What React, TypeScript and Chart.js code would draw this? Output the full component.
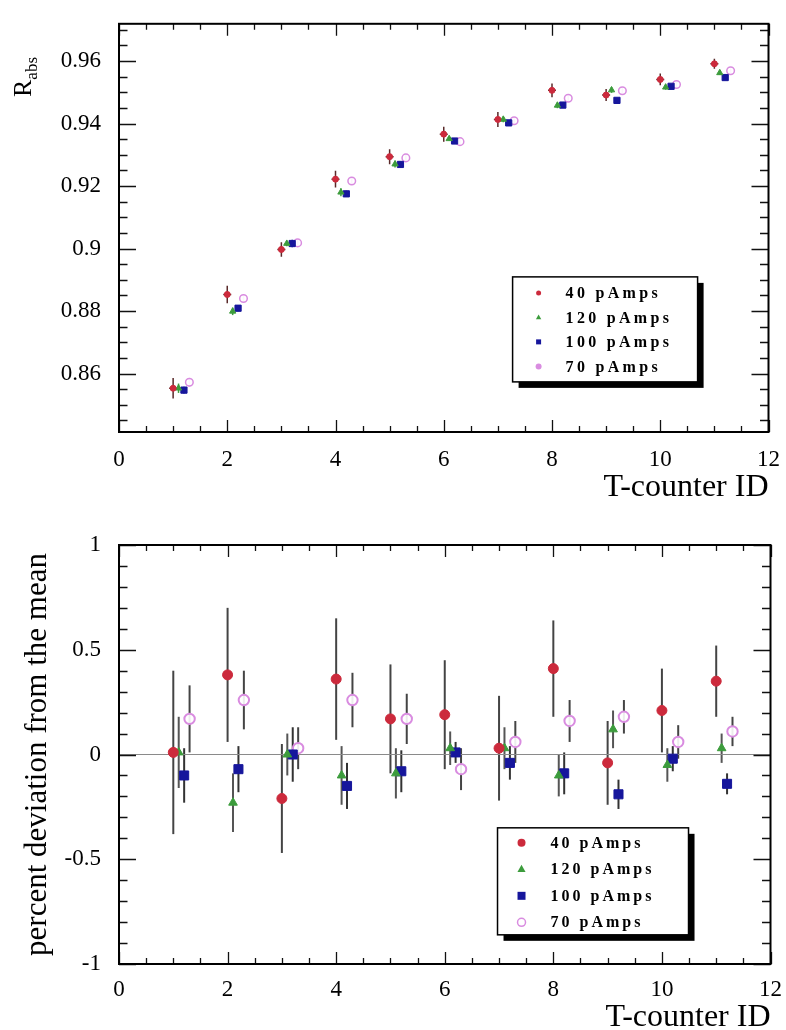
import React, { useEffect, useRef } from "react";
import { Chart, registerables } from "chart.js";

Chart.register(...registerables);

// ---------------- data ----------------
const counterIds = [1, 2, 3, 4, 5, 6, 7, 8, 9, 10, 11];
const seriesLabels = ["40 pAmps", "120 pAmps", "100 pAmps", "70 pAmps"];
const seriesOffsets = [0, 0.1, 0.2, 0.3];

// top panel: R_abs
const rabs40 = [0.8553, 0.8853, 0.8997, 0.9222, 0.9294, 0.9366, 0.9413, 0.9506, 0.9491, 0.9541, 0.9591];
const rabs40Err = [0.0033, 0.0028, 0.0023, 0.0027, 0.0024, 0.0024, 0.0024, 0.0022, 0.0019, 0.0019, 0.0016];
const rabs120 = [0.8553, 0.8799, 0.9016, 0.918, 0.927, 0.9351, 0.9413, 0.9458, 0.9507, 0.9516, 0.9562];
const rabs120Err = [0.0015, 0.0012, 0.0009, 0.0013, 0.0011, 0.0007, 0.0009, 0.0009, 0.0009, 0.0008, 0.0007];
const rabs100 = [0.8547, 0.8809, 0.9016, 0.9175, 0.9269, 0.9344, 0.9402, 0.9459, 0.9474, 0.9519, 0.9547];
const rabs100Err = [0.0011, 0.001, 0.0012, 0.001, 0.0009, 0.0005, 0.0008, 0.0009, 0.0007, 0.0006, 0.0005];
const rabs70 = [0.8572, 0.884, 0.9018, 0.9216, 0.929, 0.9342, 0.9409, 0.9481, 0.9505, 0.9525, 0.9569];
const rabs70Err = [0.0014, 0.0012, 0.0009, 0.0012, 0.0011, 0.0009, 0.0009, 0.0009, 0.0008, 0.0008, 0.0007];

// bottom panel: percent deviation from the mean
const dev40 = [0.01, 0.38, -0.21, 0.36, 0.17, 0.19, 0.03, 0.41, -0.04, 0.21, 0.35];
const dev40Err = [0.39, 0.32, 0.26, 0.29, 0.26, 0.26, 0.25, 0.23, 0.2, 0.2, 0.17];
const dev120 = [0.01, -0.23, 0.0, -0.1, -0.09, 0.03, 0.03, -0.1, 0.12, -0.05, 0.03];
const dev120Err = [0.17, 0.14, 0.1, 0.14, 0.12, 0.08, 0.1, 0.1, 0.09, 0.08, 0.07];
const dev100 = [-0.1, -0.07, 0.0, -0.15, -0.08, 0.01, -0.04, -0.09, -0.19, -0.02, -0.14];
const dev100Err = [0.13, 0.11, 0.13, 0.11, 0.1, 0.05, 0.08, 0.1, 0.07, 0.06, 0.05];
const dev70 = [0.17, 0.26, 0.03, 0.26, 0.17, -0.07, 0.06, 0.16, 0.18, 0.06, 0.11];
const dev70Err = [0.16, 0.14, 0.1, 0.13, 0.12, 0.1, 0.1, 0.1, 0.08, 0.08, 0.07];

// axis tick definitions
const xTickStep = 2;
const topYTickStep = 0.02;
const bottomYTickStep = 0.5;

// ---------------- styles ----------------
const SERIF = "'Liberation Serif', 'DejaVu Serif', serif";
const colors = ["#cc2a3c", "#3c9c3c", "#16169c", "#d98ce0"];
const pointStyles = ["circle", "triangle", "rect", "circle"];

type Style = { radius: number[]; border: number[]; barColor: string[]; barWidth: number; hCap: number[] };

function buildDatasets(values: number[][], errors: number[][], st: Style) {
  return values.map((vals, s) => ({
    label: seriesLabels[s],
    data: counterIds.map((id, i) => ({ x: id + seriesOffsets[s], y: vals[i] })),
    errors: errors[s],
    barColor: st.barColor[s],
    barWidth: st.barWidth,
    hCap: st.hCap[s],
    pointStyle: pointStyles[s],
    pointRadius: st.radius[s],
    pointBorderWidth: st.border[s],
    borderColor: colors[s],
    backgroundColor: s === 3 ? "rgba(255,255,255,0.9)" : colors[s],
    showLine: false,
  }));
}

const errorBarsPlugin = {
  id: "errorBars",
  beforeDatasetsDraw(chart: any) {
    const { ctx, scales } = chart;
    const xs = scales.x, ys = scales.y;
    ctx.save();
    chart.data.datasets.forEach((ds: any) => {
      ctx.strokeStyle = ds.barColor;
      ctx.lineWidth = ds.barWidth;
      ds.data.forEach((p: any, j: number) => {
        const e = ds.errors[j];
        const px = xs.getPixelForValue(p.x);
        const y1 = ys.getPixelForValue(p.y - e);
        const y2 = ys.getPixelForValue(p.y + e);
        const py = ys.getPixelForValue(p.y);
        ctx.beginPath();
        ctx.moveTo(px, y1);
        ctx.lineTo(px, y2);
        if (ds.hCap > 0) {
          ctx.moveTo(px - ds.hCap, py);
          ctx.lineTo(px + ds.hCap, py);
        }
        ctx.stroke();
      });
    });
    ctx.restore();
  },
};

const frameTicksPlugin = {
  id: "frameTicks",
  beforeDatasetsDraw(chart: any, _a: any, opts: any) {
    if (!opts.zeroLine) return;
    const { ctx, chartArea: a, scales } = chart;
    const y0 = scales.y.getPixelForValue(0);
    ctx.save();
    ctx.strokeStyle = "#8a8a8a";
    ctx.lineWidth = 1.2;
    ctx.beginPath();
    ctx.moveTo(a.left, y0);
    ctx.lineTo(a.right, y0);
    ctx.stroke();
    ctx.restore();
  },
  afterDatasetsDraw(chart: any, _a: any, opts: any) {
    const { ctx, chartArea: a, scales } = chart;
    const xs = scales.x, ys = scales.y;
    ctx.save();
    ctx.strokeStyle = "#111";
    ctx.lineWidth = 1.3;
    const eps = 1e-9;
    const xMinor = opts.xMajor / opts.xDiv;
    for (let v = Math.ceil(xs.min / xMinor - eps) * xMinor; v <= xs.max + eps; v += xMinor) {
      const isMajor = Math.abs(v / opts.xMajor - Math.round(v / opts.xMajor)) < 1e-6;
      const len = isMajor ? opts.xMajorLen : opts.xMajorLen / 2;
      const px = Math.round(xs.getPixelForValue(v)) + 0.5;
      ctx.beginPath();
      ctx.moveTo(px, a.bottom);
      ctx.lineTo(px, a.bottom - len);
      ctx.moveTo(px, a.top);
      ctx.lineTo(px, a.top + len);
      ctx.stroke();
    }
    const yMinor = opts.yMajor / opts.yDiv;
    for (let v = Math.ceil(ys.min / yMinor - eps) * yMinor; v <= ys.max + eps; v += yMinor) {
      const isMajor = Math.abs(v / opts.yMajor - Math.round(v / opts.yMajor)) < 1e-6;
      const len = isMajor ? opts.yMajorLen : opts.yMajorLen / 2;
      const py = Math.round(ys.getPixelForValue(v)) + 0.5;
      ctx.beginPath();
      ctx.moveTo(a.left, py);
      ctx.lineTo(a.left + len, py);
      ctx.moveTo(a.right, py);
      ctx.lineTo(a.right - len, py);
      ctx.stroke();
    }
    ctx.lineWidth = 2;
    ctx.strokeStyle = "#000";
    ctx.strokeRect(a.left, a.top, a.right - a.left, a.bottom - a.top);
    ctx.restore();
  },
};

function drawMarker(ctx: CanvasRenderingContext2D, style: string, x: number, y: number, r: number, color: string, open: boolean) {
  ctx.beginPath();
  if (style === "circle") {
    ctx.arc(x, y, r, 0, Math.PI * 2);
  } else if (style === "triangle") {
    ctx.moveTo(x, y - r);
    ctx.lineTo(x + r * 0.9, y + r * 0.6);
    ctx.lineTo(x - r * 0.9, y + r * 0.6);
    ctx.closePath();
  } else {
    ctx.rect(x - r, y - r, 2 * r, 2 * r);
  }
  if (open) {
    ctx.strokeStyle = color;
    ctx.lineWidth = 1.5;
    ctx.stroke();
  } else {
    ctx.fillStyle = color;
    ctx.fill();
  }
}

const boxLegendPlugin = {
  id: "boxLegend",
  afterDraw(chart: any, _a: any, o: any) {
    const { ctx, chartArea: a } = chart;
    const left = a.left + o.left * (a.right - a.left);
    const top = a.top + o.top * (a.bottom - a.top);
    ctx.save();
    ctx.fillStyle = "#000";
    ctx.fillRect(left + o.shadow, top + o.shadow, o.width, o.height);
    ctx.fillStyle = "#fff";
    ctx.fillRect(left, top, o.width, o.height);
    ctx.strokeStyle = "#000";
    ctx.lineWidth = 1.5;
    ctx.strokeRect(left, top, o.width, o.height);
    chart.data.datasets.forEach((ds: any, i: number) => {
      const cy = top + o.firstRow + i * o.rowGap;
      drawMarker(ctx, ds.pointStyle, left + o.markerX, cy, o.markerR[i], colors[i], o.open[i]);
      ctx.fillStyle = "#000";
      ctx.font = `bold ${o.fontSize}px ${SERIF}`;
      (ctx as any).letterSpacing = o.letterSpacing;
      ctx.textBaseline = "middle";
      ctx.textAlign = "left";
      ctx.fillText(ds.label, left + o.textX, cy + 1);
      (ctx as any).letterSpacing = "0px";
    });
    ctx.restore();
  },
};

const rabsTitlePlugin = {
  id: "rabsTitle",
  afterDraw(chart: any, _a: any, o: any) {
    if (!o.show) return;
    const { ctx } = chart;
    ctx.save();
    ctx.translate(o.x, o.y);
    ctx.rotate(-Math.PI / 2);
    ctx.fillStyle = "#000";
    ctx.textBaseline = "alphabetic";
    ctx.textAlign = "left";
    ctx.font = `26px ${SERIF}`;
    ctx.fillText("R", 0, 0);
    const w = ctx.measureText("R").width;
    ctx.font = `17px ${SERIF}`;
    ctx.fillText("abs", w, 6);
    ctx.restore();
  },
};

const tickFont = { family: SERIF, size: 23 };
const formatTick = (v: any) => String(Number(Number(v).toFixed(4)));

function makeConfig(p: {
  datasets: any[];
  yMin: number;
  yMax: number;
  yStep: number;
  yDiv: number;
  padTop: number;
  padRight: number;
  xAxisHeight: number;
  xTitlePadBottom: number;
  xTickPad: number;
  yTitle: any;
  legend: any;
  zeroLine: boolean;
  rabs: any;
}) {
  return {
    type: "scatter" as const,
    data: { datasets: p.datasets },
    plugins: [errorBarsPlugin, frameTicksPlugin, boxLegendPlugin, rabsTitlePlugin],
    options: {
      responsive: false,
      maintainAspectRatio: false,
      animation: false as const,
      layout: { padding: { top: p.padTop, right: p.padRight, left: 0, bottom: 0 } },
      plugins: {
        legend: { display: false },
        tooltip: { enabled: false },
        frameTicks: { xMajor: xTickStep, xDiv: 4, yMajor: p.yStep, yDiv: p.yDiv, xMajorLen: 12, yMajorLen: 17, zeroLine: p.zeroLine },
        boxLegend: p.legend,
        rabsTitle: p.rabs,
      },
      scales: {
        x: {
          type: "linear" as const,
          min: 0,
          max: 12,
          grid: { display: false },
          border: { display: false },
          ticks: { stepSize: xTickStep, font: tickFont, color: "#000", padding: p.xTickPad, maxRotation: 0, callback: formatTick },
          title: {
            display: true,
            text: "T-counter ID",
            align: "end" as const,
            color: "#000",
            font: { family: SERIF, size: 32, lineHeight: 0.8 },
            padding: { top: 0, bottom: p.xTitlePadBottom },
          },
          afterFit: (s: any) => {
            s.height = p.xAxisHeight;
          },
        },
        y: {
          type: "linear" as const,
          min: p.yMin,
          max: p.yMax,
          grid: { display: false },
          border: { display: false },
          ticks: { stepSize: p.yStep, includeBounds: false, font: tickFont, color: "#000", padding: 10, callback: formatTick },
          title: p.yTitle,
          afterFit: (s: any) => {
            s.width = 119;
          },
        },
      },
    },
  };
}

function ChartCanvas({ config, top, height }: { config: any; top: number; height: number }) {
  const ref = useRef<HTMLCanvasElement | null>(null);
  useEffect(() => {
    if (!ref.current) return;
    const chart = new Chart(ref.current, config);
    return () => chart.destroy();
  }, [config]);
  return (
    <canvas
      ref={ref}
      width={786}
      height={height}
      style={{ position: "absolute", left: 0, top, width: 786, height }}
    />
  );
}

const topConfig = makeConfig({
  datasets: buildDatasets([rabs40, rabs120, rabs100, rabs70], [rabs40Err, rabs120Err, rabs100Err, rabs70Err], {
    radius: [3, 3.6, 4.4, 3.8],
    border: [1, 1, 1, 1.5],
    barColor: ["#5a2a2a", "#3c9c3c", "#16169c", "#d98ce0"],
    barWidth: 1.5,
    hCap: [4, 0, 0, 0],
  }),
  yMin: 0.8413,
  yMax: 0.9719,
  yStep: topYTickStep,
  yDiv: 4,
  padTop: 14,
  padRight: 14,
  xAxisHeight: 73,
  xTitlePadBottom: 5,
  xTickPad: 6,
  yTitle: { display: false },
  legend: {
    left: 0.606,
    top: 0.62,
    width: 185,
    height: 105,
    shadow: 6,
    firstRow: 16,
    rowGap: 24.5,
    markerX: 26,
    textX: 53,
    fontSize: 16,
    letterSpacing: "3.3px",
    markerR: [2.5, 3, 2.5, 3],
    open: [false, false, false, false],
  },
  zeroLine: false,
  rabs: { show: true, x: 31, y: 97 },
});

const bottomConfig = makeConfig({
  datasets: buildDatasets([dev40, dev120, dev100, dev70], [dev40Err, dev120Err, dev100Err, dev70Err], {
    radius: [5, 5, 6.4, 5.2],
    border: [1, 1, 1, 2],
    barColor: ["#444", "#555", "#333", "#444"],
    barWidth: 2,
    hCap: [0, 0, 0, 0],
  }),
  yMin: -1,
  yMax: 1,
  yStep: bottomYTickStep,
  yDiv: 5,
  padTop: 40,
  padRight: 13,
  xAxisHeight: 66,
  xTitlePadBottom: 0,
  xTickPad: 4,
  yTitle: {
    display: true,
    text: "percent deviation from the mean",
    color: "#000",
    font: { family: SERIF, size: 31, lineHeight: 1 },
    padding: { top: 22, bottom: 0 },
  },
  legend: {
    left: 0.581,
    top: 0.675,
    width: 191,
    height: 107,
    shadow: 6,
    firstRow: 15,
    rowGap: 26.5,
    markerX: 24,
    textX: 53,
    fontSize: 16,
    letterSpacing: "3px",
    markerR: [4, 4.5, 4, 4],
    open: [false, false, false, true],
  },
  zeroLine: true,
  rabs: { show: false },
});

export default function App() {
  return (
    <div style={{ position: "absolute", left: 0, top: 0, width: 786, height: 1030, background: "#fff" }}>
      <ChartCanvas config={topConfig} top={0} height={505} />
      <ChartCanvas config={bottomConfig} top={505} height={525} />
    </div>
  );
}
